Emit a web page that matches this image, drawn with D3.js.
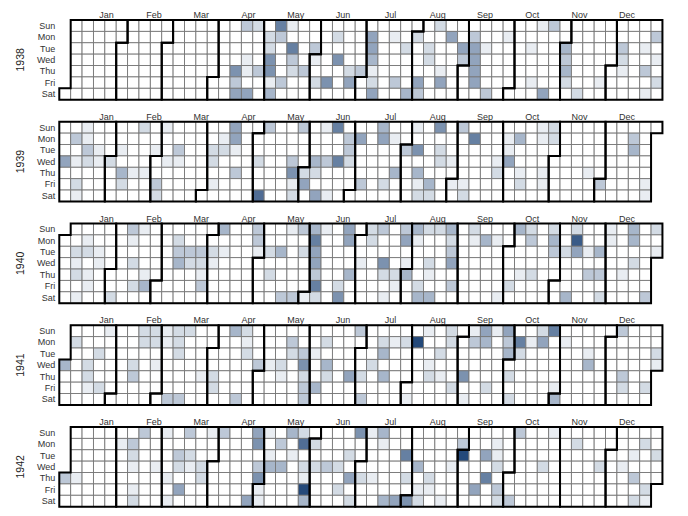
<!DOCTYPE html>
<html><head><meta charset="utf-8">
<script src="https://cdn.jsdelivr.net/npm/d3@7"></script>
<style>body{margin:0;background:#fff} text{font-family:"Liberation Sans",Arial,sans-serif}</style>
</head><body><svg id="c" width="688" height="516"></svg>
<script>
const years = [1938, 1939, 1940, 1941, 1942];
const monthLabels = ["Jan","Feb","Mar","Apr","May","Jun","Jul","Aug","Sep","Oct","Nov","Dec"];
const dayLabels = ["Sun","Mon","Tue","Wed","Thu","Fri","Sat"];

const data1938 = [
 ["04-14",6],["04-15",3],["04-16",5],["04-17",3],["04-20",1],["04-21",1],["04-23",5],["04-24",2],["04-28",3],
 ["05-02",2],["05-03",2],["05-04",6],["05-05",6],["05-06",1],["05-07",4],["05-08",7],["05-09",3],["05-13",3],
 ["05-15",1],["05-17",7],["05-18",3],["05-19",2],["05-26",3],["05-31",3],["06-01",1],["06-03",2],["06-10",6],
 ["06-13",2],["06-15",6],["06-23",2],["06-24",5],["06-30",3],
 ["07-04",5],["07-05",5],["07-06",4],["07-07",1],["07-08",2],["07-09",5],["07-18",1],["07-22",3],["07-26",2],["07-30",4],
 ["08-01",2],["08-05",5],["08-06",3],["08-09",2],["08-10",2],["08-14",2],["08-18",1],["08-19",5],["08-22",5],["08-30",5],["08-31",3],
 ["09-05",3],["09-06",5],["09-07",5],["09-08",5],["09-09",5],["09-13",1],["09-17",3],["09-26",1],
 ["10-11",1],["10-14",1],["10-16",1],["10-22",5],["10-23",3],
 ["11-01",4],["11-02",3],["11-03",4],["11-04",2],["11-12",2],["11-25",1],
 ["12-06",3],["12-07",2],["12-08",1],["12-20",1],["12-22",3],["12-24",1],["12-26",3],["12-28",1],["12-30",2]
];
const data1939 = [
 ["01-04",5],["01-09",3],["01-11",1],["01-13",2],["01-14",1],["01-15",1],["01-16",1],["01-17",3],["01-18",2],["01-24",1],["01-25",1],
 ["02-01",2],["02-07",1],["02-09",4],["02-10",2],["02-16",1],["02-19",2],["02-23",1],["02-28",1],
 ["03-03",3],["03-04",2],["03-05",1],["03-08",1],["03-14",3],["03-15",1],
 ["04-04",2],["04-05",2],["04-07",1],["04-10",1],["04-11",2],["04-16",5],["04-17",5],["04-18",1],["04-20",3],
 ["05-03",2],["05-06",8],["05-07",3],["05-24",3],["05-25",6],["05-26",1],["05-27",2],["05-28",3],
 ["06-01",2],["06-02",5],["06-07",4],["06-08",2],["06-10",5],["06-11",1],["06-14",3],["06-17",1],["06-18",7],["06-21",7],
 ["06-26",3],["06-27",3],["06-28",2],
 ["07-03",5],["07-07",3],["07-16",4],["07-17",5],["07-21",2],["07-24",1],["07-27",4],
 ["08-01",3],["08-06",1],["08-08",6],["08-10",4],["08-11",1],["08-12",2],["08-18",4],["08-19",2],["08-20",6],["08-22",2],["08-23",2],["08-30",1],
 ["09-01",1],["09-03",3],["09-08",1],["09-09",2],["09-11",7],["09-27",1],["09-28",2],
 ["10-02",1],["10-03",1],["10-04",5],["10-09",4],["10-12",1],["10-13",2],["10-22",1],["10-23",1],["10-26",1],["10-27",1],["10-29",2],["10-30",2],
 ["11-23",1],["12-01",3],["12-18",3],["12-19",4],["12-29",1],["12-30",1]
];
const data1940 = [
 ["01-09",2],["01-10",1],["01-11",2],["01-13",1],["01-15",1],["01-16",2],["01-18",1],["01-19",1],["01-23",1],["01-24",1],
 ["02-03",2],["02-11",3],["02-12",1],["02-14",2],["02-16",2],["02-18",1],["02-22",1],["02-23",4],
 ["03-11",2],["03-12",3],["03-13",4],["03-19",3],["03-20",2],["03-26",3],["03-27",2],["03-28",1],["03-29",3],
 ["04-02",2],["04-03",1],["04-07",4],["04-09",1],["04-28",3],["04-29",3],["04-30",1],
 ["05-07",2],["05-09",2],["05-14",4],["05-18",3],["05-19",1],["05-25",3],["05-26",3],["05-28",2],
 ["06-01",1],["06-02",4],["06-03",7],["06-04",5],["06-05",5],["06-06",3],["06-07",7],["06-08",2],["06-09",1],
 ["06-21",2],["06-22",6],["06-23",5],["06-24",5],["06-27",4],
 ["07-03",1],["07-07",2],["07-08",2],["07-14",3],["07-17",6],["07-18",2],["07-20",1],["07-25",2],["07-26",1],
 ["07-28",3],["07-29",5],["07-31",1],["08-01",4],["08-04",4],["08-05",1],["08-09",2],["08-10",4],
 ["08-11",2],["08-14",2],["08-15",1],["08-17",4],["08-18",2],["08-25",4],["08-26",2],["08-27",3],["08-28",5],["08-30",3],
 ["09-08",2],["09-09",1],["09-16",4],["09-23",1],["09-28",1],
 ["10-04",2],["10-06",4],["10-10",1],["10-13",2],["10-14",3],["10-17",2],["10-27",2],["10-28",4],["10-29",3],
 ["11-05",2],["11-09",4],["11-10",2],["11-11",9],["11-12",5],["11-19",1],["11-21",3],["11-26",4],["11-28",3],["11-30",2],
 ["12-01",1],["12-02",1],["12-12",1],["12-15",4],["12-16",4],["12-18",2],["12-28",3],["12-29",2],["12-31",1]
];
const data1941 = [
 ["01-01",4],["01-06",2],["01-15",2],["01-16",2],["01-17",1],["01-21",2],["01-24",2],["01-26",1],
 ["02-12",2],["02-13",3],["02-16",2],["02-17",2],["02-23",2],["02-24",2],["02-26",1],
 ["03-02",1],["03-03",1],["03-08",3],["03-09",2],["03-10",2],["03-11",2],["03-15",3],["03-16",2],["03-27",1],
 ["04-03",2],["04-04",2],["04-13",4],["04-19",3],["04-20",2],["04-21",1],["04-22",2],["04-30",3],
 ["05-07",1],["05-14",2],["05-15",1],["05-19",3],["05-20",2],["05-27",3],["05-28",6],["05-29",2],["05-30",3],["05-31",3],
 ["06-03",1],["06-06",4],["06-09",2],["06-11",4],["06-12",2],["06-26",5],["06-29",3],
 ["07-03",2],["07-05",3],["07-09",2],["07-14",2],["07-15",4],["07-17",4],["07-21",1],["07-28",2],
 ["08-02",1],["08-04",10],["08-10",1],["08-13",1],["08-14",2],["08-19",2],["08-21",1],["08-24",2],["08-25",2],["08-29",2],
 ["09-04",6],["09-06",1],["09-07",1],["09-08",3],["09-14",5],["09-15",4],["09-19",2],["09-21",1],["09-28",5],["09-29",3],["09-30",4],
 ["10-02",2],["10-04",2],["10-06",7],["10-07",2],["10-13",1],["10-19",2],["10-20",5],["10-26",7],["10-31",1],
 ["11-01",4],["11-03",1],["11-18",1],["11-19",4],
 ["12-07",3],["12-11",3],["12-12",2],["12-26",2],["12-30",2],["12-31",1]
];
const data1942 = [
 ["01-01",3],["01-08",1],["02-02",1],["02-09",3],["02-10",2],["02-11",1],["02-13",1],["02-14",2],["02-15",3],["02-25",1],
 ["03-01",1],["03-05",1],["03-07",1],["03-10",3],["03-11",2],["03-13",5],["03-15",3],["03-17",2],["03-18",1],["03-25",2],["03-26",2],["03-29",1],
 ["04-05",3],["04-25",5],["04-26",5],["04-27",6],["04-29",3],["04-30",6],
 ["05-01",1],["05-02",1],["05-03",1],["05-05",1],["05-06",4],["05-11",3],["05-13",4],["05-17",4],["05-19",1],
 ["05-24",2],["05-25",8],["05-27",2],["05-28",1],["05-29",10],["05-30",4],
 ["06-01",2],["06-03",2],["06-10",3],["06-17",2],["06-19",2],["06-23",2],["06-25",5],["06-27",2],["06-28",6],
 ["07-02",2],["07-05",1],["07-09",1],["07-12",4],["07-13",1],["07-18",4],["07-25",5],["07-28",7],["07-30",2],
 ["08-01",6],["08-05",4],["08-07",1],["08-08",2],["08-13",2],["08-14",1],["08-22",1],["08-26",1],["08-31",3],
 ["09-01",10],["09-11",5],["09-15",5],["09-17",7],["09-21",1],["09-22",1],["09-23",2],["09-25",3],["09-26",2],
 ["10-03",3],["10-04",3],["10-21",2],["10-25",1],
 ["11-09",2],["11-25",2],
 ["12-09",1],["12-15",1],["12-17",3],["12-19",2],["12-21",2],["12-25",2],["12-26",1],["12-29",2]
];
const dataByYear = {1938: data1938, 1939: data1939, 1940: data1940, 1941: data1941, 1942: data1942};

const cellSize = 11.38, left = 59.3, top0 = 20, yearStep = 101.75, monthStep = 47.3;
const color = d3.scaleLinear().domain([0, 10]).range(["#ffffff", "#24497a"]);

const svg = d3.select("#c");

function pathMonth(t0) {
  const t1 = new Date(t0.getFullYear(), t0.getMonth() + 1, 0);
  const d0 = t0.getDay(), w0 = d3.timeWeek.count(d3.timeYear(t0), t0);
  const d1 = t1.getDay(), w1 = d3.timeWeek.count(d3.timeYear(t1), t1);
  return "M" + (w0 + 1) * cellSize + "," + d0 * cellSize +
    "H" + w0 * cellSize + "V" + 7 * cellSize +
    "H" + w1 * cellSize + "V" + (d1 + 1) * cellSize +
    "H" + (w1 + 1) * cellSize + "V0" +
    "H" + (w0 + 1) * cellSize + "Z";
}

years.forEach((year, yi) => {
  const g = svg.append("g").attr("transform", `translate(${left},${top0 + yi * yearStep})`);
  const valueMap = new Map(dataByYear[year].map(([md, v]) => [`${year}-${md}`, v]));
  const fmt = d3.timeFormat("%Y-%m-%d");

  g.append("text")
    .attr("transform", `translate(${-35},${cellSize * 3.5}) rotate(-90)`)
    .attr("text-anchor", "middle")
    .attr("font-size", 10.5).attr("fill", "#222")
    .text(year);

  g.selectAll(".dl").data(dayLabels).join("text")
    .attr("x", -4).attr("y", (d, i) => (i + 0.5) * cellSize)
    .attr("dy", "0.35em").attr("text-anchor", "end")
    .attr("font-size", 9).attr("fill", "#333")
    .text(d => d);

  g.selectAll(".ml").data(monthLabels).join("text")
    .attr("x", (d, i) => (i + 1) * monthStep).attr("y", -2)
    .attr("text-anchor", "middle")
    .attr("font-size", 9).attr("fill", "#333")
    .text(d => d);

  const days = d3.timeDays(new Date(year, 0, 1), new Date(year + 1, 0, 1));
  g.selectAll("rect.day").data(days).join("rect")
    .attr("class", "day")
    .attr("width", cellSize).attr("height", cellSize)
    .attr("x", d => d3.timeWeek.count(d3.timeYear(d), d) * cellSize)
    .attr("y", d => d.getDay() * cellSize)
    .attr("fill", d => color(valueMap.get(fmt(d)) || 0))
    .attr("stroke", "#777").attr("stroke-width", 0.9);

  g.selectAll("path.month").data(d3.timeMonths(new Date(year, 0, 1), new Date(year + 1, 0, 1))).join("path")
    .attr("class", "month")
    .attr("d", pathMonth)
    .attr("fill", "none").attr("stroke", "#000").attr("stroke-width", 2);
});
</script></body></html>
